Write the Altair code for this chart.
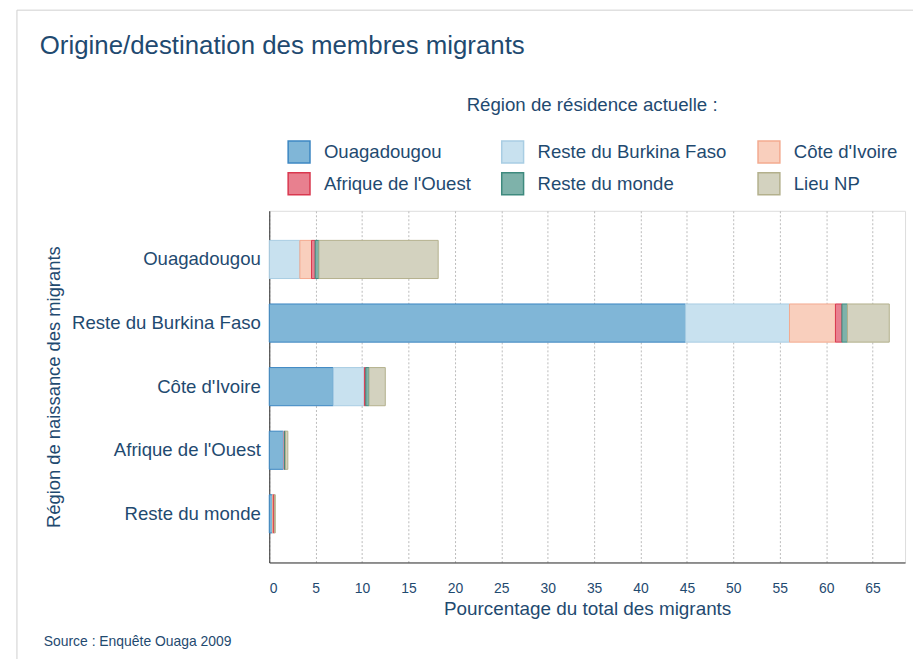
import altair as alt
import pandas as pd

# ---- data ----
origins = ["Ouagadougou", "Reste du Burkina Faso", "Côte d'Ivoire",
           "Afrique de l'Ouest", "Reste du monde"]
dests = ["Ouagadougou", "Reste du Burkina Faso", "Côte d'Ivoire",
         "Afrique de l'Ouest", "Reste du monde", "Lieu NP"]
# percentage of all migrants, one list per birth region, in dest order
v_ouaga = [0.0, 3.3, 1.25, 0.4, 0.4, 12.85]
v_rbf = [44.85, 11.2, 4.95, 0.7, 0.6, 4.5]
v_ci = [6.9, 3.35, 0.0, 0.15, 0.35, 1.75]
v_ao = [1.5, 0.1, 0.0, 0.05, 0.1, 0.25]
v_rm = [0.35, 0.0, 0.1, 0.1, 0.0, 0.1]
x_ticks = list(range(0, 70, 5))

TITLE = "Origine/destination des membres migrants"
SOURCE = "Source : Enquête Ouaga 2009"

fills = ["#80b6d7", "#c8e1ef", "#f9cfbd", "#e8808f", "#7eb2aa", "#d3d2bf"]
strokes = ["#3b86c2", "#a8cde3", "#f3aa8f", "#d9384f", "#3e8a7e", "#b3b08c"]
TXT = "#1f4a70"
FONT = "Liberation Sans"

rows = []
for o, vals in zip(origins, [v_ouaga, v_rbf, v_ci, v_ao, v_rm]):
    for i, (d, v) in enumerate(zip(dests, vals)):
        if v > 0:
            rows.append({"origin": o, "dest": d, "value": v, "ord": i})
df = pd.DataFrame(rows)

W, H = 640, 354
PL, PT = 263, 202

leg = alt.Legend(
    title="Région de résidence actuelle :",
    orient="none", legendX=18, legendY=-115, direction="horizontal",
    columns=3, columnPadding=28, rowPadding=4,
    symbolType="square", symbolSize=484, symbolStrokeWidth=1.5,
    symbolOpacity=1,
    labelFontSize=18.7, labelFont=FONT, labelColor=TXT, labelOffset=13,
    titleFontSize=18.8, titleFont=FONT, titleColor=TXT, titleFontWeight="normal",
    titleAnchor="middle", titlePadding=25, titleLimit=600, labelLimit=400,
)

bars = alt.Chart(df).mark_bar(strokeWidth=1, opacity=1).encode(
    y=alt.Y("origin:N", sort=origins,
            scale=alt.Scale(paddingInner=0.4, paddingOuter=0.465),
            axis=alt.Axis(title="Région de naissance des migrants",
                          labelFontSize=18.7, labelFont=FONT, labelColor=TXT,
                          labelPadding=9, ticks=False, domainColor="#333333",
                          titleFontSize=18.5, titleFont=FONT, titleColor=TXT,
                          titleFontWeight="normal", titlePadding=8,
                          labelLimit=400, grid=False)),
    x=alt.X("value:Q", stack="zero",
            scale=alt.Scale(domain=[0, 68.5], nice=False),
            axis=alt.Axis(title="Pourcentage du total des migrants",
                          values=x_ticks, labelFontSize=14, labelFont=FONT,
                          labelColor=TXT, labelPadding=19, ticks=False,
                          domainColor="#333333", grid=True,
                          gridColor="#bbbbbb", gridDash=[2, 2],
                          titleFontSize=19, titleFont=FONT, titleColor=TXT,
                          titleFontWeight="normal", titlePadding=4)),
    fill=alt.Fill("dest:N", scale=alt.Scale(domain=dests, range=fills), legend=leg),
    stroke=alt.Stroke("dest:N", scale=alt.Scale(domain=dests, range=strokes), legend=leg),
    order=alt.Order("ord:Q"),
)

one = pd.DataFrame({"t": [TITLE], "s": [SOURCE]})
frame_top = alt.Chart(one).mark_rule(color="#d0d0d0", strokeWidth=1).encode(
    x=alt.value(-254), x2=alt.value(W + 20), y=alt.value(-202))
frame_left = alt.Chart(one).mark_rule(color="#d0d0d0", strokeWidth=1).encode(
    x=alt.value(-254), y=alt.value(-202), y2=alt.value(H + 120))
title = alt.Chart(one).mark_text(align="left", baseline="alphabetic", fontSize=26,
                                 font=FONT, color=TXT).encode(
    text="t:N", x=alt.value(-231), y=alt.value(-157.5))
source = alt.Chart(one).mark_text(align="left", baseline="alphabetic", fontSize=14,
                                  font=FONT, color=TXT).encode(
    text="s:N", x=alt.value(-227), y=alt.value(438))

chart = alt.layer(frame_top, frame_left, bars, title, source).properties(
    width=W, height=H,
    autosize=alt.AutoSizeParams(type="none"),
    padding={"left": PL, "top": PT, "right": 8, "bottom": 95},
).configure_view(stroke=None).configure(font=FONT)

chart.save("out.html", embed_options={"renderer": "svg", "actions": False})
